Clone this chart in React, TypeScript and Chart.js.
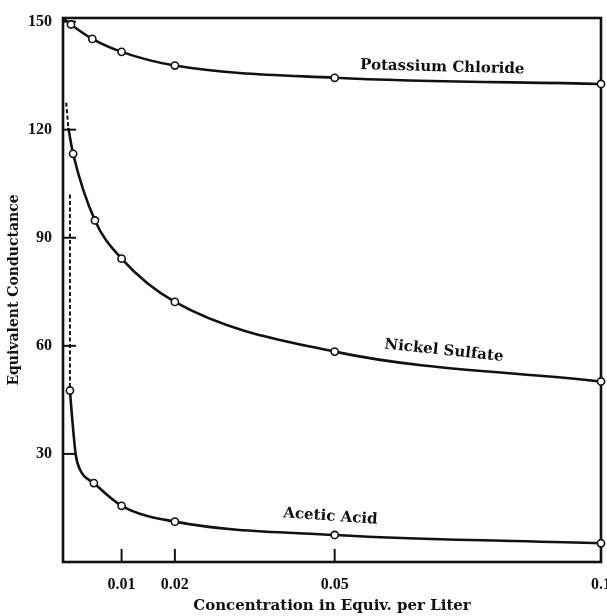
import React, { useEffect, useRef } from "react";
import { Chart, registerables } from "chart.js";
Chart.register(...registerables);

// ---- data ----
const xTickValues = [0.01, 0.02, 0.05, 0.1];
const xTickLabels = ["0.01", "0.02", "0.05", "0.1"];
const yTickValues = [30, 60, 90, 120, 150];

const seriesNames = ["Potassium Chloride", "Nickel Sulfate", "Acetic Acid"];

// Potassium chloride (first entry: curve end at the axis corner, no marker)
const kclX = [-0.001, 0.0005, 0.0045, 0.01, 0.02, 0.05, 0.1];
const kclY = [151, 149.2, 145.2, 141.6, 137.8, 134.4, 132.7];
const kclMarked = [0, 1, 1, 1, 1, 1, 1];

// Nickel sulfate (first entry: end of solid curve at the axis, no marker)
const niX = [0, 0.0009, 0.005, 0.01, 0.02, 0.05, 0.1];
const niY = [120.5, 113.3, 94.8, 84.2, 72.2, 58.4, 50.1];
const niMarked = [0, 1, 1, 1, 1, 1, 1];
const niDashX = [-0.0004, 0];
const niDashY = [127.5, 120.5];

// Acetic acid (2nd-4th entries: curve shape points, no marker)
const acX = [0.0003, 0.00075, 0.0014, 0.0022, 0.0048, 0.01, 0.02, 0.05, 0.1];
const acY = [47.6, 39.4, 29.7, 25.6, 21.9, 15.6, 11.2, 7.5, 5.2];
const acMarked = [1, 0, 0, 0, 1, 1, 1, 1, 1];
const acDashX = [0.0003, 0.0003];
const acDashY = [102, 47.6];

const TICK_FONT = "'Liberation Serif', 'DejaVu Serif', serif";
const TEXT_FONT = "'DejaVu Serif', 'Liberation Serif', serif";
const INK = "#111";

const pts = (xs: number[], ys: number[]) => xs.map((x, i) => ({ x, y: ys[i] }));

export default function App() {
  const ref = useRef<HTMLCanvasElement | null>(null);
  useEffect(() => {
    if (!ref.current) return;
    const solid = (xs: number[], ys: number[], marked: number[]) => ({
      data: pts(xs, ys),
      borderColor: INK,
      borderWidth: 2.6,
      cubicInterpolationMode: "monotone" as const,
      pointRadius: marked.map((m) => (m ? 3.6 : 0)),
      pointBorderWidth: 1.6,
      pointBackgroundColor: "#fff",
      pointBorderColor: INK,
      clip: false as const,
    });
    const dashed = (xs: number[], ys: number[]) => ({
      data: pts(xs, ys),
      borderColor: INK,
      borderWidth: 2,
      borderDash: [4, 2.5],
      pointRadius: 0,
      clip: false as const,
    });

    const labelAnchors = [
      { text: seriesNames[0], x: 0.0702, y: 137.3, rot: 1.5 },
      { text: seriesNames[1], x: 0.0705, y: 58.6, rot: 6 },
      { text: seriesNames[2], x: 0.0492, y: 12.6, rot: 4 },
    ];

    const decor = {
      id: "decor",
      beforeDatasetsDraw(chart: any) {
        const { ctx, chartArea: a, scales } = chart;
        ctx.save();
        ctx.strokeStyle = INK;
        ctx.lineWidth = 2.6;
        ctx.strokeRect(a.left, a.top, a.right - a.left, a.bottom - a.top);
        ctx.lineWidth = 2;
        yTickValues.forEach((v) => {
          const y = scales.y.getPixelForValue(v);
          ctx.beginPath();
          ctx.moveTo(a.left, y);
          ctx.lineTo(a.left + 13, y);
          ctx.stroke();
        });
        xTickValues.forEach((v) => {
          const x = scales.x.getPixelForValue(v);
          ctx.beginPath();
          ctx.moveTo(x, a.bottom);
          ctx.lineTo(x, a.bottom - 13);
          ctx.stroke();
        });
        ctx.restore();
      },
      afterDatasetsDraw(chart: any) {
        const { ctx, scales } = chart;
        ctx.save();
        ctx.fillStyle = INK;
        ctx.font = `bold 15px ${TEXT_FONT}`;
        ctx.textAlign = "center";
        ctx.textBaseline = "middle";
        labelAnchors.forEach((l) => {
          const x = scales.x.getPixelForValue(l.x);
          const y = scales.y.getPixelForValue(l.y);
          ctx.save();
          ctx.translate(x, y);
          ctx.rotate((l.rot * Math.PI) / 180);
          ctx.fillText(l.text, 0, 0);
          ctx.restore();
        });
        ctx.restore();
      },
    };

    const chart = new Chart(ref.current, {
      type: "line",
      data: {
        datasets: [
          solid(kclX, kclY, kclMarked),
          solid(niX, niY, niMarked),
          dashed(niDashX, niDashY),
          solid(acX, acY, acMarked),
          dashed(acDashX, acDashY),
        ] as any,
      },
      options: {
        animation: false,
        responsive: false,
        layout: { padding: { top: 18, right: 6, left: 0, bottom: 0 } },
        plugins: { legend: { display: false }, tooltip: { enabled: false } },
        scales: {
          x: {
            type: "linear",
            min: -0.001,
            max: 0.1,
            grid: { display: false },
            border: { display: false },
            afterBuildTicks: (s: any) => {
              s.ticks = xTickValues.map((v) => ({ value: v }));
            },
            afterFit: (s: any) => {
              s.height = 54;
              s.paddingLeft = 0;
              s.paddingRight = 0;
            },
            ticks: {
              color: INK,
              padding: 5,
              maxRotation: 0,
              autoSkip: false,
              font: { family: TICK_FONT, size: 16, weight: "bold" },
              callback: (v: any) => {
                const i = xTickValues.indexOf(Number(v));
                return i >= 0 ? xTickLabels[i] : "";
              },
            },
            title: {
              display: true,
              text: "Concentration in Equiv. per Liter",
              color: INK,
              font: { family: TEXT_FONT, size: 15, weight: "bold" },
              padding: { top: 0, bottom: 1 },
            },
          },
          y: {
            type: "linear",
            min: 0,
            max: 151,
            grid: { display: false },
            border: { display: false },
            afterBuildTicks: (s: any) => {
              s.ticks = yTickValues.map((v) => ({ value: v }));
            },
            afterFit: (s: any) => {
              s.width = 63;
              s.paddingTop = 0;
              s.paddingBottom = 0;
            },
            ticks: {
              color: INK,
              padding: 3,
              font: { family: TICK_FONT, size: 16, weight: "bold" },
              callback: (v: any) => String(v),
            },
            title: {
              display: true,
              text: "Equivalent Conductance",
              color: INK,
              font: { family: TEXT_FONT, size: 14, weight: "bold" },
              padding: { top: 6, bottom: 0 },
            },
          },
        },
      } as any,
      plugins: [decor],
    });
    return () => chart.destroy();
  }, []);

  return (
    <div style={{ position: "absolute", left: 0, top: 0, width: 607, height: 616, background: "#fff" }}>
      <canvas ref={ref} width={607} height={616} style={{ width: 607, height: 616, display: "block" }} />
    </div>
  );
}
